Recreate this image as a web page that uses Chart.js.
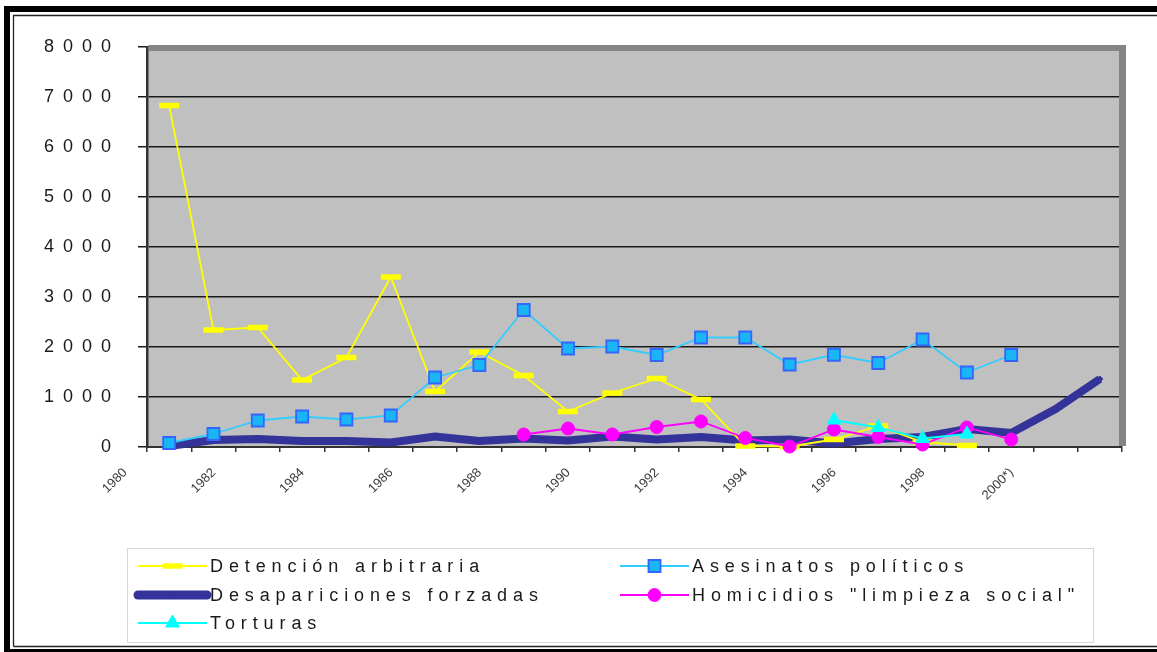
<!DOCTYPE html>
<html>
<head>
<meta charset="utf-8">
<title>Violaciones de derechos humanos</title>
<script src="https://cdn.jsdelivr.net/npm/chart.js@4/dist/chart.umd.min.js"></script>
<style>
  html, body { margin: 0; padding: 0; background: #fff; overflow: hidden; }
  canvas { display: block; }
</style>
</head>
<body>
<canvas id="chart" width="1157" height="652"></canvas>
<script>
// Years on the category axis (only every other one is labelled)
const categories = ['1980', '1981', '1982', '1983', '1984', '1985', '1986', '1987', '1988', '1989',
  '1990', '1991', '1992', '1993', '1994', '1995', '1996', '1997', '1998', '1999', '2000*)', '2001'];

// Series values, one per year (null = no record)
const detencionArbitraria = [6830, 2340, 2390, 1340, 1790, 3400, 1110, 1900, 1430, 710,
  1080, 1370, 950, 20, 10, 150, 420, 100, 30, null, null, null];
const asesinatosPoliticos = [80, 260, 530, 610, 550, 630, 1390, 1640, 2740, 1970,
  2010, 1840, 2190, 2190, 1650, 1845, 1680, 2150, 1490, 1840, null, null];
const desaparicionesForzadas = [20, 140, 160, 120, 120, 90, 210, 120, 170, 130,
  210, 150, 200, 130, 150, 70, 160, 200, 360, 280, 760, 1360];
const homicidiosLimpieza = [null, null, null, null, null, null, null, null, 250, 370,
  250, 400, 510, 180, 10, 350, 200, 50, 390, 150, null, null];
const torturas = [null, null, null, null, null, null, null, null, null, null,
  null, null, null, null, null, 540, 390, 170, 260, null, null, null];

// Value axis
const yMin = 0, yMax = 8000, yStep = 1000;

const FONT = "'Liberation Sans', Arial, sans-serif";

// White page with the double black frame
const framePlugin = {
  id: 'frame',
  beforeDraw(chart) {
    const { ctx, width, height } = chart;
    ctx.save();
    ctx.fillStyle = '#ffffff';
    ctx.fillRect(0, 0, width, height);
    ctx.fillStyle = '#000000';
    ctx.fillRect(4, 6, width - 4, 6);
    ctx.fillRect(4, 6, 6, height - 6);
    ctx.fillRect(4, height - 3, width - 4, 3);
    ctx.strokeStyle = '#222222';
    ctx.lineWidth = 1.3;
    ctx.beginPath();
    ctx.moveTo(13.5, height - 5.5);
    ctx.lineTo(13.5, 15.5);
    ctx.lineTo(width, 15.5);
    ctx.moveTo(13.5, height - 5.5);
    ctx.lineTo(width, height - 5.5);
    ctx.stroke();
    // grey plot wall
    const a = chart.chartArea;
    ctx.fillStyle = '#c0c0c0';
    ctx.fillRect(a.left, a.top, a.right - a.left, a.bottom - a.top);
    ctx.restore();
  },
  beforeDatasetsDraw(chart) {
    // darker rim along the top and right of the wall
    const { ctx } = chart;
    const a = chart.chartArea;
    ctx.save();
    ctx.fillStyle = '#858585';
    ctx.fillRect(a.left + 1.5, a.top - 2, a.right - a.left + 2, 6);
    ctx.fillRect(a.right - 3, a.top - 2, 7, a.bottom - a.top + 1);
    ctx.restore();
  }
};

// Value-axis labels drawn with wide letter spacing
const spacedTicksPlugin = {
  id: 'spacedTicks',
  afterLayout(chart) {
    const s = chart.scales.y;
    if (!s || s._spaced) return;
    const base = s.drawLabels;
    s.drawLabels = function (area) {
      const c = this.ctx;
      c.save();
      c.letterSpacing = '9px';
      base.call(this, area);
      c.restore();
    };
    s._spaced = true;
  }
};

// Boxed key under the plot, two columns
const seriesKeyPlugin = {
  id: 'seriesKey',
  afterDraw(chart) {
    const { ctx } = chart;
    const cols = [138, 620];
    const rows = [566, 595, 623];
    const sampleLen = 69;
    ctx.save();
    ctx.strokeStyle = '#d6d6d6';
    ctx.lineWidth = 1;
    ctx.strokeRect(127.5, 548.5, 966, 94);
    chart.data.datasets.forEach((ds, i) => {
      const x = cols[i % 2];
      const y = rows[Math.floor(i / 2)];
      ctx.save();
      ctx.strokeStyle = ds.borderColor;
      ctx.lineWidth = ds.borderWidth >= 4 ? ds.borderWidth + 1 : ds.borderWidth;
      ctx.lineCap = ds.borderWidth >= 4 ? 'round' : 'butt';
      ctx.beginPath();
      ctx.moveTo(x, y);
      ctx.lineTo(x + sampleLen, y);
      ctx.stroke();
      ctx.fillStyle = ds.pointBackgroundColor;
      ctx.strokeStyle = ds.pointBorderColor;
      ctx.lineWidth = ds.pointBorderWidth;
      ctx.lineCap = 'butt';
      Chart.helpers.drawPoint(ctx, {
        pointStyle: ds.pointStyle,
        radius: ds.pointRadius,
        borderWidth: ds.pointBorderWidth,
        rotation: 0
      }, x + sampleLen / 2, y);
      ctx.restore();
      ctx.fillStyle = '#1a1a1a';
      ctx.font = '18px ' + FONT;
      ctx.textBaseline = 'middle';
      ctx.textAlign = 'left';
      ctx.letterSpacing = '5.9px';
      ctx.fillText(ds.label, x + sampleLen + 3, y + 1);
      ctx.letterSpacing = '0px';
    });
    ctx.restore();
  }
};

new Chart(document.getElementById('chart'), {
  type: 'line',
  data: {
    labels: categories,
    datasets: [
      {
        label: 'Detención arbitraria',
        data: detencionArbitraria,
        borderColor: '#ffff00',
        borderWidth: 1.8,
        pointStyle: 'line',
        pointRadius: 10,
        pointBorderWidth: 5.5,
        pointBorderColor: '#ffff00',
        pointBackgroundColor: '#ffff00',
        order: 4
      },
      {
        label: 'Asesinatos políticos',
        data: asesinatosPoliticos,
        borderColor: '#33ccff',
        borderWidth: 1.8,
        pointStyle: 'rect',
        pointRadius: 8.5,
        pointBorderWidth: 1.8,
        pointBorderColor: '#3366ff',
        pointBackgroundColor: '#19b5f5',
        order: 3
      },
      {
        label: 'Desapariciones forzadas',
        data: desaparicionesForzadas,
        borderColor: '#333399',
        borderWidth: 8,
        pointStyle: 'rectRot',
        pointRadius: 3,
        pointBorderWidth: 1,
        pointBorderColor: '#333399',
        pointBackgroundColor: '#333399',
        order: 5
      },
      {
        label: 'Homicidios "limpieza social"',
        data: homicidiosLimpieza,
        borderColor: '#ff00ff',
        borderWidth: 1.8,
        pointStyle: 'circle',
        pointRadius: 6.5,
        pointBorderWidth: 1,
        pointBorderColor: '#ff00ff',
        pointBackgroundColor: '#ff00ff',
        order: 2
      },
      {
        label: 'Torturas',
        data: torturas,
        borderColor: '#00ffff',
        borderWidth: 1.8,
        pointStyle: 'triangle',
        pointRadius: 8,
        pointBorderWidth: 1,
        pointBorderColor: '#00ffff',
        pointBackgroundColor: '#00ffff',
        order: 1
      }
    ].map(ds => Object.assign({ tension: 0, fill: false, clip: false, spanGaps: false }, ds))
  },
  options: {
    responsive: false,
    animation: false,
    devicePixelRatio: 1,
    events: [],
    layout: { padding: { left: 0, top: 47, right: 35, bottom: 145 } },
    plugins: {
      legend: { display: false },
      tooltip: { enabled: false }
    },
    scales: {
      x: {
        type: 'category',
        offset: true,
        grid: {
          offset: true,
          drawOnChartArea: false,
          drawTicks: true,
          tickLength: 5,
          color: '#333333',
          lineWidth: 1.5
        },
        border: { display: true, color: '#333333', width: 2 },
        ticks: {
          autoSkip: false,
          minRotation: 45,
          maxRotation: 45,
          labelOffset: -44,
          padding: 13,
          color: '#3a3a3a',
          font: { family: FONT, size: 13 },
          callback: (value, index) => (index % 2 === 0 ? categories[index] : '')
        },
        afterFit: s => { s.height = 60; }
      },
      y: {
        min: yMin,
        max: yMax,
        grid: { color: '#1a1a1a', lineWidth: 1.5, drawTicks: true, tickLength: 9 },
        border: { display: true, color: '#333333', width: 2.5 },
        ticks: {
          stepSize: yStep,
          padding: 18,
          color: '#1a1a1a',
          font: { family: FONT, size: 18 },
          callback: v => String(v)
        },
        afterFit: s => { s.width = 147; }
      }
    }
  },
  plugins: [framePlugin, spacedTicksPlugin, seriesKeyPlugin]
});
</script>
</body>
</html>
